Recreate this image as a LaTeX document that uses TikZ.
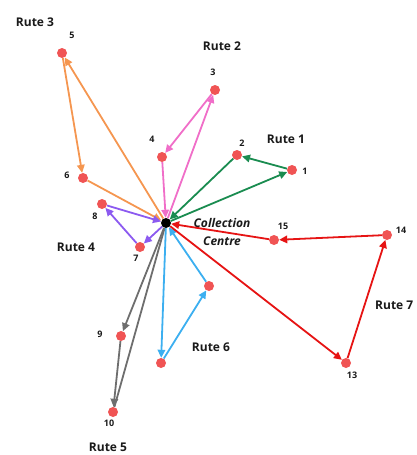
\documentclass[tikz,border=0pt]{standalone}
\usepackage{fontspec}
\setmainfont{Open Sans}
\usetikzlibrary{arrows.meta}
\definecolor{ptc}{RGB}{240,84,84}
\definecolor{txt}{RGB}{26,26,26}
\definecolor{rgreen}{RGB}{26,140,80}
\definecolor{rpink}{RGB}{240,110,200}
\definecolor{rorange}{RGB}{245,150,80}
\definecolor{rpurple}{RGB}{140,90,240}
\definecolor{rgray}{RGB}{110,110,110}
\definecolor{rblue}{RGB}{60,175,240}
\definecolor{rred}{RGB}{230,20,20}
\begin{document}
\begin{tikzpicture}[x=1pt,y=-1pt,
  stop/.style={circle,fill=ptc,inner sep=0pt,minimum size=10pt},
  depot/.style={circle,fill=black,inner sep=0pt,minimum size=10pt},
  num/.style={font=\bfseries\fontsize{9}{10}\selectfont,text=txt,inner sep=0pt},
  rute/.style={font=\bfseries\fontsize{12}{14}\selectfont,text=txt,inner sep=0pt},
  cc/.style={font=\bfseries\itshape\fontsize{12}{14}\selectfont,text=txt,inner sep=0pt},
  leg/.style={line width=1.8pt,-{Triangle[length=8pt,width=7.5pt]}},
  plain/.style={line width=1.8pt}]
\useasboundingbox (0,0) rectangle (417,455);
% stops
\node[stop] (n1) at (292,170) {};
\node[stop] (n2) at (237,155) {};
\node[stop] (n3) at (215,90) {};
\node[stop] (n4) at (162,157) {};
\node[stop] (n5) at (62,53) {};
\node[stop] (n6) at (83,178) {};
\node[stop] (n7) at (140,247) {};
\node[stop] (n8) at (102,204) {};
\node[stop] (n9) at (121,336) {};
\node[stop] (n10) at (113,412) {};
\node[stop] (n11) at (209,286) {};
\node[stop] (n12) at (161,363) {};
\node[stop] (n13) at (346,363) {};
\node[stop] (n14) at (387,235) {};
\node[stop] (n15) at (274,240) {};
\node[depot] (c) at (166,223) {};
% number labels
\node[num] (l1) at (305,171) {1};
\node[num] (l2) at (242,143) {2};
\node[num] (l3) at (213,72) {3};
\node[num] (l4) at (152,139) {4};
\node[num] (l5) at (72,35) {5};
\node[num] (l6) at (67,175) {6};
\node[num] (l7) at (136,258) {7};
\node[num] (l8) at (95,216) {8};
\node[num] (l9) at (100,334) {9};
\node[num] (l10) at (109,423) {10};
\node[num] (l13) at (352,375) {13};
\node[num] (l14) at (401,230) {14};
\node[num] (l15) at (283,226) {15};
% route labels
\node[rute] (r1) at (286,139) {Rute 1};
\node[rute] (r2) at (222,46) {Rute 2};
\node[rute] (r3) at (35,22) {Rute 3};
\node[rute] (r4) at (76,247) {Rute 4};
\node[rute] (r5) at (108,447) {Rute 5};
\node[rute] (r6) at (211,347) {Rute 6};
\node[rute,anchor=west] (r7) at (375,305) {Rute 7};
\node[cc] (cc1) at (222,223) {Collection};
\node[cc] (cc2) at (222,241) {Centre};
% Rute 1
\draw[leg,rgreen] (c) -- (n1);
\draw[leg,rgreen] (n1) -- (n2);
\draw[leg,rgreen] (n2) -- (c);
% Rute 2
\draw[leg,rpink] (c) -- (n3);
\draw[leg,rpink] (n3) -- (n4);
\draw[leg,rpink] (n4) -- (c);
% Rute 3
\draw[leg,rorange] (c) -- (n5);
\draw[leg,rorange] (n5) -- (n6);
\draw[leg,rorange] (n6) -- (c);
% Rute 4
\draw[leg,rpurple] (c) -- (n7);
\draw[leg,rpurple] (n7) -- (n8);
\draw[leg,rpurple] (n8) -- (c);
% Rute 5
\draw[leg,rgray] (c) -- (n9);
\draw[leg,rgray] (n9) -- (n10);
\draw[plain,rgray] (n10) -- (c);
% Rute 6
\draw[leg,rblue] (c) -- (n12);
\draw[leg,rblue] (n12) -- (n11);
\draw[leg,rblue] (n11) -- (c);
% Rute 7
\draw[leg,rred] (c) -- (n13);
\draw[leg,rred] (n13) -- (n14);
\draw[leg,rred] (n14) -- (n15);
\draw[leg,rred] (n15) -- (c);
\end{tikzpicture}
\end{document}
